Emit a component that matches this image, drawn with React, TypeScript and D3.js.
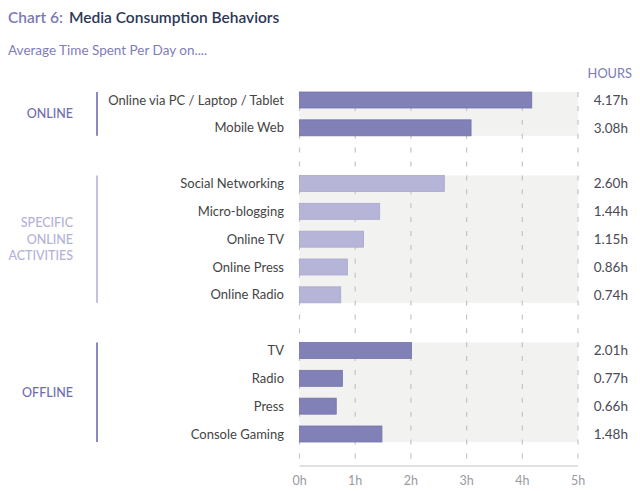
import React from "react";
import * as d3 from "d3";

// data
const onlineLabels = ["Online via PC / Laptop / Tablet", "Mobile Web"];
const onlineValues = [4.17, 3.08];
const specificLabels = ["Social Networking", "Micro-blogging", "Online TV", "Online Press", "Online Radio"];
const specificValues = [2.6, 1.44, 1.15, 0.86, 0.74];
const offlineLabels = ["TV", "Radio", "Press", "Console Gaming"];
const offlineValues = [2.01, 0.77, 0.66, 1.48];
const hourTicks = [0, 1, 2, 3, 4, 5];

const FONT = "Lato, 'Open Sans', sans-serif";

const groups = [
  { name: ["ONLINE"], labels: onlineLabels, values: onlineValues, fill: "#8180b7", stroke: "#7473ad", nameColor: "#6e6cb0", lineColor: "#8b89c1", start: 0 },
  { name: ["SPECIFIC", "ONLINE", "ACTIVITIES"], labels: specificLabels, values: specificValues, fill: "#b6b4d7", stroke: "#a9a7cf", nameColor: "#b3b1d8", lineColor: "#c3c1e0", start: 3 },
  { name: ["OFFLINE"], labels: offlineLabels, values: offlineValues, fill: "#8180b7", stroke: "#7473ad", nameColor: "#6e6cb0", lineColor: "#8b89c1", start: 9 },
];

export default function App() {
  const x = d3.scaleLinear().domain([0, 5]).range([299.5, 578]);
  const y = d3.scaleLinear().domain([0, 12]).range([100, 434]);
  const barH = 16;
  const axisY = 466;

  return (
    <svg width={640} height={491} style={{ position: "absolute", left: 0, top: 0 }} fontFamily={FONT}>
      <rect width={640} height={491} fill="#fff" />
      <text x={8} y={23} fontSize={15.5} fontWeight={600}>
        <tspan fill="#7b79b4">Chart 6:</tspan>
        <tspan fill="#2c3858" dx={6}>Media Consumption Behaviors</tspan>
      </text>
      <text x={8} y={55} fontSize={13.5} fill="#7f7db8">Average Time Spent Per Day on....</text>
      <text x={632} y={78} fontSize={12.8} fill="#7b79b4" textAnchor="end">HOURS</text>

      {/* gray bands behind each group */}
      {groups.map((g, gi) => (
        <rect key={"band" + gi} x={x(0)} width={x(5) - x(0)}
          y={y(g.start) - barH / 2}
          height={y(g.start + g.labels.length - 1) - y(g.start) + barH}
          fill="#f2f2f1" />
      ))}

      {/* dashed gridlines */}
      {hourTicks.map((t) => (
        <line key={"g" + t} x1={x(t)} x2={x(t)} y1={y(0) - barH / 2} y2={axisY}
          stroke="#c4c4c4" strokeWidth={1.2} strokeDasharray="5,8.9" />
      ))}
      <line x1={x(0)} x2={x(5)} y1={axisY} y2={axisY} stroke="#c4c4c4" strokeWidth={1.2} />
      {hourTicks.map((t) => (
        <text key={"t" + t} x={x(t)} y={485} fontSize={12.5} fill="#9a9aa2" textAnchor="middle">{t}h</text>
      ))}

      {groups.map((g, gi) => {
        const top = y(g.start) - barH / 2;
        const bottom = y(g.start + g.labels.length - 1) + barH / 2;
        const mid = (top + bottom) / 2;
        const lh = 16.5;
        return (
          <g key={"grp" + gi}>
            <line x1={97} x2={97} y1={top} y2={bottom} stroke={g.lineColor} strokeWidth={2} />
            {g.name.map((n, i) => (
              <text key={n} x={73} y={mid + (i - (g.name.length - 1) / 2) * lh} dy="0.35em"
                fontSize={12.5} fill={g.nameColor} textAnchor="end" fontWeight={500}>{n}</text>
            ))}
            {g.labels.map((lab, i) => {
              const cy = y(g.start + i);
              const v = g.values[i];
              return (
                <g key={lab}>
                  <text x={284} y={cy} dy="0.35em" fontSize={13} fill="#444" textAnchor="end">{lab}</text>
                  <rect x={x(0)} y={cy - barH / 2} width={x(v) - x(0)} height={barH}
                    fill={g.fill} stroke={g.stroke} strokeWidth={0.8} />
                  <text x={628} y={cy} dy="0.35em" fontSize={13.5} fill="#4a4a55" textAnchor="end">{v.toFixed(2)}h</text>
                </g>
              );
            })}
          </g>
        );
      })}
    </svg>
  );
}
